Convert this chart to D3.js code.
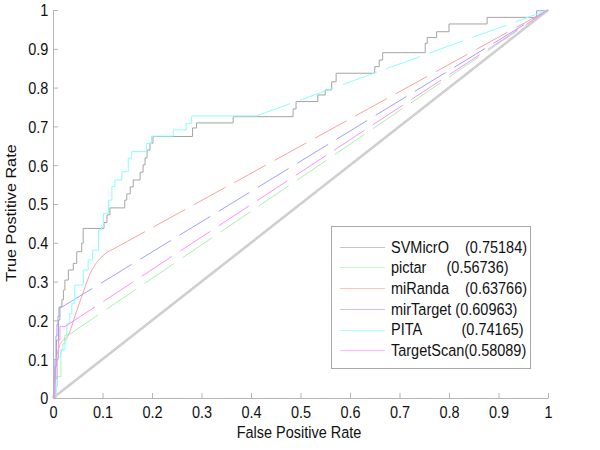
<!DOCTYPE html>
<html>
<head>
<meta charset="utf-8">
<script src="https://cdn.jsdelivr.net/npm/d3@7"></script>
<style>
  html, body { margin: 0; padding: 0; background: #fff; }
  svg { display: block; font-family: Arial, "Liberation Sans", Helvetica, sans-serif; }
  text { white-space: pre; }
</style>
</head>
<body>
<svg id="chart" width="600" height="450"></svg>
<script>
// ---------------- DATA ----------------
const xTicks = [0, 0.1, 0.2, 0.3, 0.4, 0.5, 0.6, 0.7, 0.8, 0.9, 1];
const xTickLabels = ["0", "0.1", "0.2", "0.3", "0.4", "0.5", "0.6", "0.7", "0.8", "0.9", "1"];
const yTicks = [0, 0.1, 0.2, 0.3, 0.4, 0.5, 0.6, 0.7, 0.8, 0.9, 1];
const yTickLabels = ["0", "0.1", "0.2", "0.3", "0.4", "0.5", "0.6", "0.7", "0.8", "0.9", "1"];

const seriesNames = ["SVMicrO", "pictar", "miRanda", "mirTarget", "PITA", "TargetScan"];
const legendLabels = [
  "SVMicrO    (0.75184)",
  "pictar     (0.56736)",
  "miRanda    (0.63766)",
  "mirTarget (0.60963)",
  "PITA          (0.74165)",
  "TargetScan(0.58089)"
];

// ROC points [FPR, TPR]; step series: at FPR x the TPR rises to y
const svmicroROC = [[0,0],[0.002,0.013],[0.004,0.081],[0.007,0.149],[0.011,0.201],[0.014,0.235],[0.018,0.253],[0.021,0.278],[0.024,0.304],[0.031,0.33],[0.041,0.347],[0.048,0.377],[0.058,0.399],[0.061,0.437],[0.103,0.452],[0.109,0.472],[0.115,0.49],[0.145,0.51],[0.149,0.526],[0.156,0.544],[0.162,0.562],[0.176,0.582],[0.182,0.601],[0.186,0.619],[0.190,0.639],[0.196,0.657],[0.202,0.674],[0.282,0.696],[0.290,0.709],[0.364,0.725],[0.485,0.745],[0.491,0.764],[0.535,0.781],[0.550,0.794],[0.563,0.815],[0.572,0.837],[0.650,0.854],[0.659,0.871],[0.666,0.890],[0.752,0.914],[0.756,0.929],[0.775,0.944],[0.800,0.964],[0.877,0.981],[0.977,0.998],[1,1]];
const pictarROC = [[0,0],[0.006,0.055],[0.016,0.124],[0.020,0.14],[0.024,0.162],[0.031,0.162]];
const mirandaROC = [[0,0],[0.003,0.04],[0.006,0.09],[0.012,0.13],[0.020,0.148],[0.030,0.16],[0.036,0.178],[0.044,0.21],[0.052,0.24],[0.061,0.272],[0.070,0.305],[0.080,0.333],[0.090,0.352],[0.100,0.366],[0.110,0.376],[0.122,0.384]];
const mirtargetROC = [[0,0],[0.002,0.04],[0.004,0.10],[0.006,0.16],[0.008,0.19],[0.010,0.21],[0.012,0.234],[0.0175,0.234]];
const pitaROC = [[0,0],[0.006,0.03],[0.009,0.106],[0.016,0.124],[0.024,0.149],[0.028,0.192],[0.034,0.218],[0.038,0.244],[0.044,0.291],[0.061,0.33],[0.071,0.356],[0.080,0.381],[0.092,0.433],[0.098,0.441],[0.102,0.476],[0.112,0.51],[0.119,0.545],[0.125,0.562],[0.139,0.583],[0.152,0.618],[0.159,0.635],[0.189,0.656],[0.199,0.675],[0.243,0.691],[0.269,0.708],[0.28,0.727],[0.411,0.727]];
const targetscanROC = [[0,0],[0.004,0.05],[0.008,0.10],[0.011,0.15],[0.014,0.184],[0.024,0.184]];
const rocEnd = [1, 1];
const chanceLine = [[0, 0], [1, 1]];

// ---------------- STYLE ----------------
const colors = ["#a4a4a4", "#a6f5a6", "#ffa0a0", "#a0a0ff", "#88ffff", "#ff90ff"];
const curves = [d3.curveStepAfter, d3.curveStepAfter, d3.curveMonotoneX, d3.curveStepAfter, d3.curveStepAfter, d3.curveStepAfter];
const rocData = [svmicroROC, pictarROC, mirandaROC, mirtargetROC, pitaROC, targetscanROC];
const FS = 14.5, SY = 1.12;

const svg = d3.select("#chart");
const x = d3.scaleLinear().domain([0, 1]).range([53, 548]);
const y = d3.scaleLinear().domain([0, 1]).range([398, 10]);

// chance diagonal
svg.append("path")
  .datum(chanceLine)
  .attr("d", d3.line().x(d => x(d[0])).y(d => y(d[1])))
  .attr("fill", "none").attr("stroke", "#cfcfcf").attr("stroke-width", 2.6);

// series
rocData.forEach((pts, i) => {
  const g = svg.append("g");
  g.append("path")
    .datum(pts)
    .attr("d", d3.line().curve(curves[i]).x(d => x(d[0])).y(d => y(d[1])))
    .attr("fill", "none").attr("stroke", colors[i]).attr("stroke-width", 1);
  const last = pts[pts.length - 1];
  if (last[0] < 1) {
    g.append("path")
      .datum([last, rocEnd])
      .attr("d", d3.line().x(d => x(d[0])).y(d => y(d[1])))
      .attr("fill", "none").attr("stroke", colors[i]).attr("stroke-width", 1)
      .attr("stroke-dasharray", "36,10");
  }
});

// axes
const axisColor = "#b4b4b4";
const gx = svg.append("g").attr("transform", "translate(0,398)")
  .call(d3.axisBottom(x).tickValues(xTicks).tickFormat((d, i) => xTickLabels[i])
    .tickSizeInner(-5).tickSizeOuter(0).tickPadding(0));
const gy = svg.append("g").attr("transform", "translate(53,0)")
  .call(d3.axisLeft(y).tickValues(yTicks).tickFormat((d, i) => yTickLabels[i])
    .tickSizeInner(-5).tickSizeOuter(0).tickPadding(4.7));
[gx, gy].forEach(g => {
  g.select(".domain").attr("stroke", axisColor);
  g.selectAll(".tick line").attr("stroke", axisColor);
  g.selectAll(".tick text").attr("fill", "#111").attr("font-size", FS)
    .attr("font-family", "Arial, 'Liberation Sans', sans-serif");
});
gx.selectAll(".tick text").attr("y", 17.9).attr("dy", null).attr("transform", `scale(1,${SY})`);
gy.selectAll(".tick text").attr("y", 5.2).attr("dy", null).attr("transform", `scale(1,${SY})`);

// axis titles
svg.append("text")
  .attr("transform", `translate(299,438) scale(1,${SY})`)
  .attr("text-anchor", "middle").attr("font-size", FS).attr("fill", "#111")
  .text("False Positive Rate");
svg.append("text")
  .attr("transform", `translate(16,213) rotate(-90) scale(${SY},1)`)
  .attr("text-anchor", "middle").attr("font-size", FS).attr("fill", "#111")
  .text("True Postitive Rate");

// legend
const lg = svg.append("g");
lg.append("rect").attr("x", 331.5).attr("y", 226.5).attr("width", 199).attr("height", 142)
  .attr("fill", "#fff").attr("stroke", "#a8a8a8");
seriesNames.forEach((name, i) => {
  const ry = 246.7 + i * 20.7;
  lg.append("line").attr("x1", 340).attr("x2", 385).attr("y1", Math.round(ry) + 0.5).attr("y2", Math.round(ry) + 0.5)
    .attr("stroke", colors[i]).attr("stroke-width", 1).attr("stroke-opacity", 0.65);
  lg.append("text")
    .attr("xml:space", "preserve")
    .attr("transform", `translate(391,${ry + 5.8}) scale(1,${SY})`)
    .attr("font-size", FS).attr("fill", "#111")
    .text(legendLabels[i]);
});
</script>
</body>
</html>
